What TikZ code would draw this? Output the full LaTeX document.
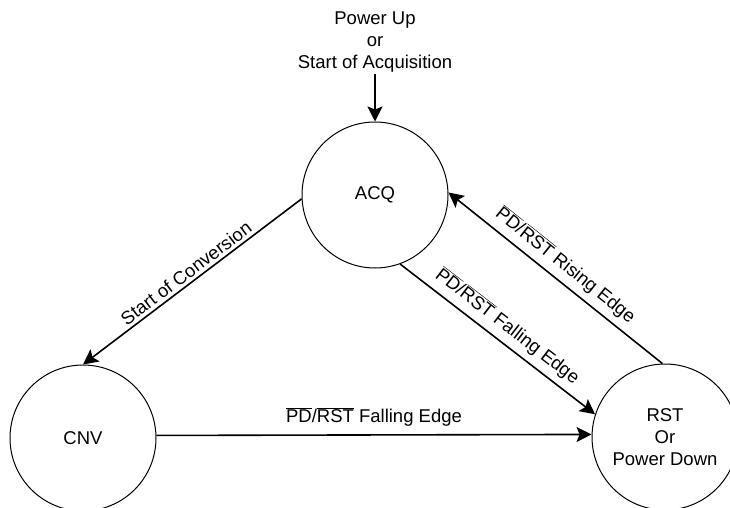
\documentclass[tikz,border=0pt]{standalone}
\usepackage{fontspec}
\setmainfont{Liberation Sans}
\usetikzlibrary{arrows.meta}
\newcommand\ovl[1]{$\overline{\mbox{#1}}$}
\begin{document}
\begin{tikzpicture}[x=1pt,y=-1pt,
  state/.style={circle, draw, line width=1pt, minimum size=146pt, inner sep=0pt, font=\fontsize{18.5}{22}\selectfont, align=center},
  trans/.style={line width=1.6pt, -{Stealth[length=15pt,width=15pt,inset=3pt]}},
  lbl/.style={font=\fontsize{18.5}{22}\selectfont, inner sep=2pt}]
\useasboundingbox (0,0) rectangle (730,508);
\node[state] (acq) at (375,195) {ACQ};
\node[state] (cnv) at (83,438) {CNV};
\node[state] (rst) at (665,437) {RST\\Or\\Power Down};
\node[lbl, align=center] (pu) at (375,42) {Power Up\\or\\Start of Acquisition};
\draw[trans] (pu) -- (acq);
\draw[trans] (acq.183) -- node[lbl, sloped, above=1pt] {Start of Conversion} (cnv.north);
\draw[trans] (acq.290) -- node[lbl, sloped, above=4pt] {\ovl{PD}/\ovl{RST} Falling Edge} (rst.162);
\draw[trans] (rst.92) -- node[lbl, sloped, above=4pt] {\ovl{PD}/\ovl{RST} Rising Edge} (acq.2);
\draw[trans] (cnv.2) -- node[lbl, above=6pt] {\ovl{PD}/\ovl{RST} Falling Edge} (rst.178);
\end{tikzpicture}
\end{document}
